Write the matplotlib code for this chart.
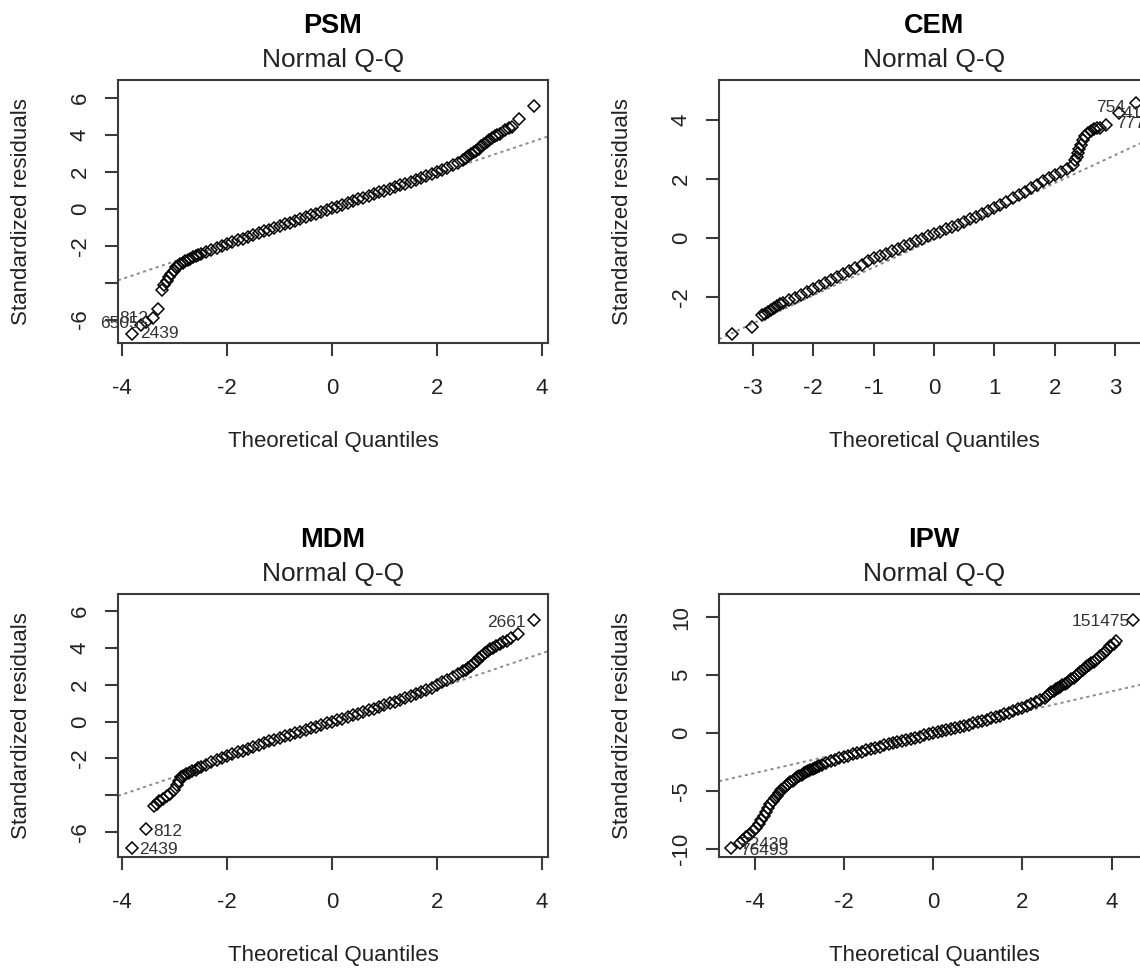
import matplotlib
matplotlib.use("Agg")
import matplotlib.pyplot as plt

plt.rcParams["font.family"] = ["Liberation Sans", "DejaVu Sans"]

# theoretical quantiles for the central body of every panel
qq_grid = [-2.5, -2.4, -2.3, -2.2, -2.1, -2.0, -1.9, -1.8, -1.7, -1.6,
           -1.5, -1.4, -1.3, -1.2, -1.1, -1.0, -0.9, -0.8, -0.7, -0.6,
           -0.5, -0.4, -0.3, -0.2, -0.1, 0.0, 0.1, 0.2, 0.3, 0.4,
           0.5, 0.6, 0.7, 0.8, 0.9, 1.0, 1.1, 1.2, 1.3, 1.4,
           1.5, 1.6, 1.7, 1.8, 1.9, 2.0, 2.1, 2.2, 2.3, 2.4, 2.5]

# --- PSM ---
psm_mid = [-2.45, -2.33, -2.22, -2.11, -2.0, -1.9, -1.8, -1.71, -1.62, -1.52,
           -1.42, -1.33, -1.23, -1.13, -1.04, -0.94, -0.85, -0.75, -0.65, -0.56,
           -0.46, -0.36, -0.27, -0.17, -0.07, 0.03, 0.12, 0.22, 0.31, 0.41,
           0.5, 0.6, 0.69, 0.79, 0.88, 0.98, 1.07, 1.17, 1.26, 1.36,
           1.46, 1.56, 1.66, 1.76, 1.86, 1.97, 2.08, 2.21, 2.35, 2.5, 2.65]
psm_low_x = [-2.55, -2.6, -2.65, -2.7, -2.75, -2.8, -2.85, -2.9, -2.94, -2.98,
             -3.02, -3.06, -3.1, -3.15, -3.2, -3.25, -3.32, -3.41, -3.54, -3.65, -3.82]
psm_low_y = [-2.5, -2.56, -2.62, -2.7, -2.77, -2.85, -2.92, -2.98, -3.08, -3.18,
             -3.35, -3.55, -3.72, -3.9, -4.12, -4.4, -5.45, -5.9, -6.15, -6.3, -6.79]
psm_high_x = [2.55, 2.6, 2.65, 2.7, 2.75, 2.8, 2.85, 2.9, 2.95, 3.0,
              3.05, 3.1, 3.15, 3.2, 3.3, 3.37, 3.44, 3.56, 3.86]
psm_high_y = [2.75, 2.85, 2.95, 3.05, 3.15, 3.25, 3.37, 3.5, 3.62, 3.72,
              3.83, 3.93, 4.0, 4.06, 4.24, 4.35, 4.45, 4.85, 5.58]
psm_ids = ["6505", "812", "2439"]
psm_id_x = [-4.43, -4.05, -3.66]
psm_id_y = [-6.23, -5.96, -6.78]
psm_line = (0.0, 0.95)

# --- CEM ---
cem_mid = [-2.2, -2.12, -2.05, -1.95, -1.83, -1.72, -1.63, -1.54, -1.43, -1.32,
           -1.21, -1.11, -1.01, -0.91, -0.8, -0.7, -0.62, -0.54, -0.46, -0.37,
           -0.29, -0.2, -0.12, -0.03, 0.05, 0.13, 0.21, 0.29, 0.37, 0.45,
           0.54, 0.63, 0.72, 0.82, 0.92, 1.02, 1.12, 1.22, 1.33, 1.44,
           1.55, 1.67, 1.79, 1.91, 2.02, 2.12, 2.23, 2.34, 2.48, 3.0, 3.45]
cem_low_x = [-3.35, -3.01, -2.85, -2.8, -2.75, -2.7, -2.65, -2.6, -2.55]
cem_low_y = [-3.24, -3.01, -2.62, -2.57, -2.5, -2.45, -2.38, -2.3, -2.25]
cem_high_x = [2.33, 2.36, 2.38, 2.43, 2.46, 2.55, 2.6, 2.65, 2.7, 2.75, 2.85, 3.07, 3.35]
cem_high_y = [2.62, 2.75, 2.87, 3.15, 3.32, 3.55, 3.62, 3.68, 3.7, 3.72, 3.82, 4.21, 4.55]
cem_ids = ["754", "41", "777"]
cem_id_x = [3.16, 3.13, 3.01]
cem_id_y = [4.42, 4.22, 3.88]
cem_line = (-0.05, 0.95)

# --- MDM ---
mdm_mid = [-2.45, -2.33, -2.21, -2.08, -1.97, -1.87, -1.77, -1.67, -1.57, -1.47,
           -1.37, -1.27, -1.18, -1.08, -0.99, -0.9, -0.81, -0.72, -0.63, -0.55,
           -0.46, -0.37, -0.28, -0.19, -0.1, -0.02, 0.07, 0.16, 0.25, 0.34,
           0.43, 0.52, 0.61, 0.7, 0.8, 0.89, 0.99, 1.08, 1.18, 1.28,
           1.38, 1.49, 1.6, 1.71, 1.84, 1.98, 2.12, 2.26, 2.41, 2.56, 2.71]
mdm_low_x = [-2.55, -2.6, -2.66, -2.72, -2.78, -2.84, -2.87, -2.92, -2.96, -3.01,
             -3.08, -3.15, -3.22, -3.29, -3.34, -3.4, -3.54, -3.81]
mdm_low_y = [-2.52, -2.6, -2.69, -2.78, -2.86, -2.94, -3.0, -3.2, -3.45, -3.7,
             -3.9, -4.04, -4.2, -4.31, -4.45, -4.55, -5.79, -6.84]
mdm_high_x = [2.55, 2.6, 2.65, 2.71, 2.76, 2.81, 2.87, 2.92, 2.97, 3.02,
              3.07, 3.12, 3.2, 3.27, 3.33, 3.42, 3.54, 3.86]
mdm_high_y = [2.8, 2.9, 3.0, 3.18, 3.3, 3.42, 3.57, 3.72, 3.82, 3.92,
              4.0, 4.08, 4.18, 4.28, 4.35, 4.5, 4.71, 5.52]
mdm_ids = ["2661", "812", "2439"]
mdm_id_x = [3.7, -3.4, -3.67]
mdm_id_y = [5.34, -5.94, -6.9]
mdm_line = (-0.13, 0.955)

# --- IPW ---
ipw_mid = [-2.7, -2.55, -2.41, -2.28, -2.16, -2.04, -1.92, -1.81, -1.7, -1.59,
           -1.48, -1.37, -1.26, -1.15, -1.05, -0.95, -0.85, -0.75, -0.65, -0.56,
           -0.46, -0.37, -0.28, -0.18, -0.09, 0.0, 0.09, 0.18, 0.27, 0.36,
           0.46, 0.55, 0.65, 0.75, 0.85, 0.95, 1.06, 1.17, 1.28, 1.4,
           1.52, 1.65, 1.78, 1.92, 2.06, 2.2, 2.35, 2.51, 2.7, 2.88, 3.08]
ipw_low_x = [-2.55, -2.6, -2.65, -2.7, -2.75, -2.8, -2.85, -2.9, -2.95, -3.0,
             -3.05, -3.1, -3.15, -3.2, -3.25, -3.3, -3.35, -3.4, -3.45, -3.5,
             -3.55, -3.6, -3.65, -3.7, -3.75, -3.8, -3.85, -3.9, -3.97, -4.04,
             -4.12, -4.19, -4.26, -4.33, -4.52]
ipw_low_y = [-2.78, -2.87, -2.96, -3.05, -3.14, -3.24, -3.34, -3.45, -3.56, -3.68,
             -3.8, -3.93, -4.07, -4.22, -4.38, -4.55, -4.73, -4.93, -5.14, -5.37,
             -5.6, -5.85, -6.1, -6.4, -6.75, -7.1, -7.5, -7.85, -8.2, -8.4,
             -8.8, -8.95, -9.2, -9.45, -9.91]
ipw_high_x = [2.55, 2.6, 2.65, 2.7, 2.75, 2.8, 2.85, 2.9, 2.95, 3.0,
              3.05, 3.1, 3.15, 3.2, 3.25, 3.3, 3.35, 3.4, 3.45, 3.5,
              3.55, 3.6, 3.66, 3.75, 3.8, 3.85, 3.89, 3.97, 4.05, 4.11, 4.48]
ipw_high_y = [3.22, 3.38, 3.52, 3.65, 3.78, 3.9, 4.02, 4.13, 4.24, 4.36,
              4.5, 4.65, 4.8, 4.95, 5.12, 5.3, 5.47, 5.62, 5.77, 5.9,
              6.03, 6.17, 6.35, 6.65, 6.85, 7.0, 7.21, 7.5, 7.7, 7.93, 9.8]
ipw_ids = ["151475", "72439", "76493"]
ipw_id_x = [4.42, -4.33, -4.33]
ipw_id_y = [9.65, -9.54, -10.12]
ipw_line = (0.09, 0.88)

panels = [
    dict(name="PSM", mid=psm_mid, low=(psm_low_x, psm_low_y), high=(psm_high_x, psm_high_y),
         ids=(psm_ids, psm_id_x, psm_id_y, ["left", "left", "left"]), line=psm_line,
         xlim=(-4.08, 4.12), ylim=(-7.27, 6.97),
         xticks=[-4, -2, 0, 2, 4], yticks=[-6, -4, -2, 0, 2, 4, 6],
         ylabels=["-6", "", "-2", "0", "2", "4", "6"], pos=(0, 0)),
    dict(name="CEM", mid=cem_mid, low=(cem_low_x, cem_low_y), high=(cem_high_x, cem_high_y),
         ids=(cem_ids, cem_id_x, cem_id_y, ["right", "left", "left"]), line=cem_line,
         xlim=(-3.56, 3.56), ylim=(-3.56, 5.34),
         xticks=[-3, -2, -1, 0, 1, 2, 3], yticks=[-2, 0, 2, 4],
         ylabels=["-2", "0", "2", "4"], pos=(1, 0)),
    dict(name="MDM", mid=mdm_mid, low=(mdm_low_x, mdm_low_y), high=(mdm_high_x, mdm_high_y),
         ids=(mdm_ids, mdm_id_x, mdm_id_y, ["right", "left", "left"]), line=mdm_line,
         xlim=(-4.08, 4.12), ylim=(-7.33, 6.9),
         xticks=[-4, -2, 0, 2, 4], yticks=[-6, -4, -2, 0, 2, 4, 6],
         ylabels=["-6", "", "-2", "0", "2", "4", "6"], pos=(0, 1)),
    dict(name="IPW", mid=ipw_mid, low=(ipw_low_x, ipw_low_y), high=(ipw_high_x, ipw_high_y),
         ids=(ipw_ids, ipw_id_x, ipw_id_y, ["right", "left", "left"]), line=ipw_line,
         xlim=(-4.8, 4.84), ylim=(-10.66, 12.0),
         xticks=[-4, -2, 0, 2, 4], yticks=[-10, -5, 0, 5, 10],
         ylabels=["-10", "-5", "0", "5", "10"], pos=(1, 1)),
]

W, H = 1140, 968
fig = plt.figure(figsize=(W / 100, H / 100), dpi=100)

col_left = [118, 719]
row_top = [80, 594]
box_w, box_h = 430, 263
ink = "#222222"
frame = "#3a3a3a"

for p in panels:
    c, r = p["pos"]
    ax = fig.add_axes([col_left[c] / W, 1 - (row_top[r] + box_h) / H, box_w / W, box_h / H])

    x = p["low"][0][::-1] + qq_grid + p["high"][0]
    y = p["low"][1][::-1] + p["mid"] + p["high"][1]
    b, m = p["line"]
    ax.axline((0, b), slope=m, color="#8c8c8c", lw=1.4, ls=(0, (1.6, 1.8)), zorder=1)
    ax.plot(x, y, ls="none", marker="D", ms=6.2, mfc="none", mec="black", mew=1.1, zorder=2)

    labels, lx, ly, has = p["ids"]
    for txt, tx, ty, ha in zip(labels, lx, ly, has):
        ax.text(tx, ty, txt, ha=ha, va="center", fontsize=12.5, color="#333333", clip_on=False)

    ax.set_xlim(*p["xlim"])
    ax.set_ylim(*p["ylim"])
    ax.set_xticks(p["xticks"])
    ax.set_xticklabels([str(v) for v in p["xticks"]])
    ax.set_yticks(p["yticks"])
    ax.set_yticklabels(p["ylabels"], rotation=90, va="center")

    for s in ax.spines.values():
        s.set_color(frame)
        s.set_linewidth(1.5)
    ax.tick_params(direction="out", length=9.5, width=1.5, color=frame,
                   labelsize=16, labelcolor=ink)
    ax.tick_params(axis="x", pad=15.5)
    ax.tick_params(axis="y", pad=10)

    ax.text(0.5, 1 + 54 / box_h, p["name"], transform=ax.transAxes, ha="center",
            va="center", fontsize=19.5, fontweight="bold", color="black")
    ax.text(0.5, 1 + 20 / box_h, "Normal Q-Q", transform=ax.transAxes, ha="center",
            va="center", fontsize=19, color=ink)
    ax.text(0.5, -98 / box_h, "Theoretical Quantiles", transform=ax.transAxes,
            ha="center", va="center", fontsize=16, color=ink)
    ax.text(-96 / box_w, 0.5, "Standardized residuals", transform=ax.transAxes,
            ha="center", va="center", rotation=90, fontsize=16, color=ink)

fig.savefig("out.png", dpi=100)
